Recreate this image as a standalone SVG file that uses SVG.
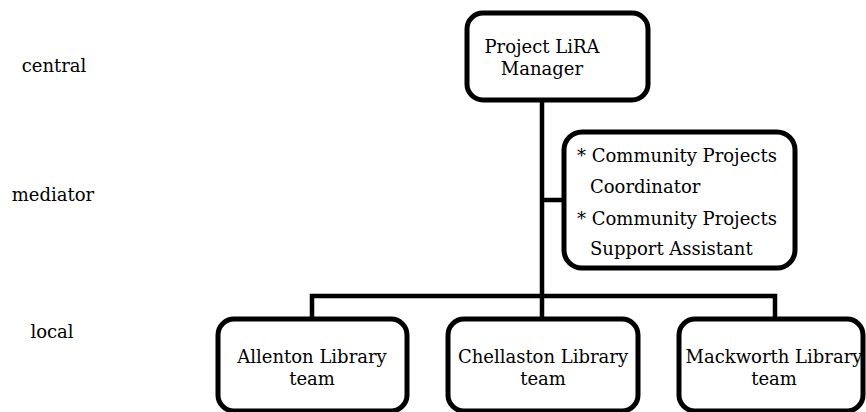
<svg xmlns="http://www.w3.org/2000/svg" width="866" height="412" viewBox="0 0 866 412">
  <style>
    .box { fill: #fff; stroke: #000; stroke-width: 5; }
    .link { fill: none; stroke: #000; stroke-width: 4.5; }
    text { font-family: "DejaVu Serif", "Liberation Serif", serif; font-size: 18px; fill: #000; }
    .c { text-anchor: middle; }
  </style>
  <rect width="866" height="412" fill="#fff"/>

  <!-- tier labels -->
  <g id="tiers">
    <text class="c" x="54" y="72">central</text>
    <text class="c" x="53" y="201">mediator</text>
    <text class="c" x="52" y="338">local</text>
  </g>

  <!-- connectors -->
  <g id="connectors">
    <path class="link" d="M542 100 V296"/>
    <path class="link" d="M542 200 H565"/>
    <path class="link" d="M312 318 V296 H775 V318"/>
    <path class="link" d="M542 296 V318"/>
  </g>

  <g id="manager">
    <rect class="box" x="467" y="13" width="181" height="87" rx="16"/>
    <text class="c" x="542" y="53">Project LiRA</text>
    <text class="c" x="542" y="75">Manager</text>
  </g>

  <g id="mediators">
    <rect class="box" x="564" y="132" width="231" height="136" rx="18"/>
    <text x="577" y="162">* Community Projects</text>
    <text x="590" y="193">Coordinator</text>
    <text x="577" y="225">* Community Projects</text>
    <text x="590" y="255">Support Assistant</text>
  </g>

  <g id="allenton">
    <rect class="box" x="218" y="319" width="189" height="92" rx="16"/>
    <text class="c" x="312" y="363">Allenton Library</text>
    <text class="c" x="312" y="385">team</text>
  </g>

  <g id="chellaston">
    <rect class="box" x="448" y="319" width="190" height="92" rx="16"/>
    <text class="c" x="543" y="363">Chellaston Library</text>
    <text class="c" x="543" y="385">team</text>
  </g>

  <g id="mackworth">
    <rect class="box" x="679" y="319" width="184" height="92" rx="16"/>
    <text class="c" x="774" y="363">Mackworth Library</text>
    <text class="c" x="774" y="385">team</text>
  </g>
</svg>
